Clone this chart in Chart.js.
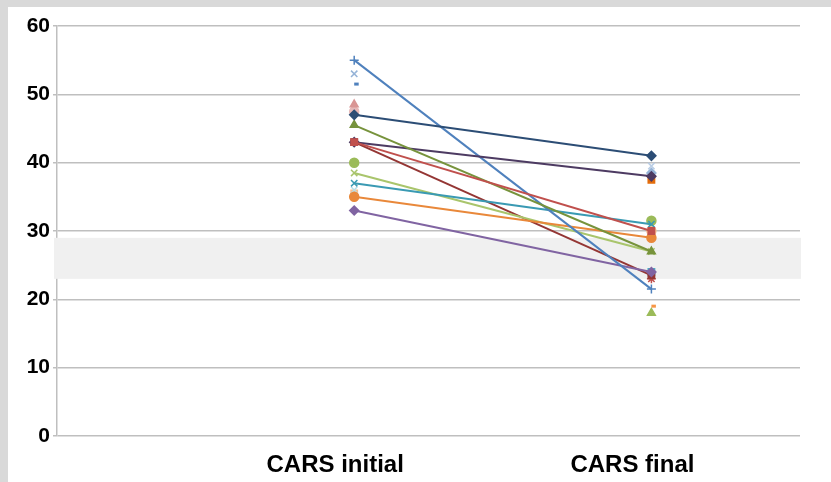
<!DOCTYPE html>
<html>
<head>
<meta charset="utf-8">
<script src="https://cdn.jsdelivr.net/npm/chart.js@4.4.1/dist/chart.umd.min.js"></script>
<style>
  html, body { margin: 0; padding: 0; background: #d9d9d9; }
  body { width: 831px; height: 482px; position: relative; overflow: hidden; }
  #wrap { position: absolute; left: 8px; top: 7px; width: 823px; height: 475px; background: #fff; }
</style>
</head>
<body>
<div id="wrap"><canvas id="carsChart"></canvas></div>
<script>
// two measurement points per patient
const categories = ['CARS initial', 'CARS final'];
const yTicks = [0, 10, 20, 30, 40, 50, 60];

// per-series values (null = no point at that time)
const initialScores = [47, 43, 45.5, 43, 55, 37, 35, 33, 38.5, 43,
    53, 51.5, 48.5, 47.5, 40, 36, 35.5,
    null, null, null, null, null, null, null, null, null];
const finalScores = [41, 30, 27, 38, 21.5, 31, 29, 24, 27, 23.5,
    null, null, null, null, null, null, null,
    39.5, 38.5, 37.5, 31.5, 30, 24, 23, 19, 18];

const lineColors = ['#2c4d75', '#c0504d', '#77933c', '#4d3b62', '#4f81bd', '#3a9ab3', '#e9883a', '#8064a2', '#a9c56c', '#943634',
    '#95b3d7', '#4f81bd', '#d99694', '#e6b9b8', '#9bbb59', '#b7dee8', '#fac090',
    '#b9cde5', '#95b3d7', '#e46c0a', '#9bbb59', '#fac090', '#4bacc6', '#c0504d', '#f79646', '#9bbb59'];
const markerStyles = ['rectRot', 'rect', 'triangle', 'rectRot', 'cross', 'crossRot', 'circle', 'rectRot', 'crossRot', 'rect',
    'crossRot', 'dash', 'triangle', 'circle', 'circle', 'crossRot', 'rect',
    'crossRot', 'rectRot', 'rect', 'circle', 'circle', 'rect', 'star', 'dash', 'triangle'];

// shaded reference range
const bandLow = 23;
const bandHigh = 29;

const datasets = initialScores.map((v, i) => ({
    data: [
        { x: 1, y: v },
        { x: 2, y: finalScores[i] }
    ],
    borderColor: lineColors[i],
    backgroundColor: lineColors[i],
    pointStyle: markerStyles[i],
    pointRadius: 4.5,
    pointBorderWidth: markerStyles[i] === 'dash' ? 3 : 1.5,
    borderWidth: 2,
    spanGaps: false
}));

const bandPlugin = {
    id: 'band',
    beforeDatasetsDraw(chart) {
        const { ctx, chartArea, scales } = chart;
        const top = scales.y.getPixelForValue(bandHigh);
        const bottom = scales.y.getPixelForValue(bandLow);
        ctx.save();
        ctx.fillStyle = '#f0f0f0';
        ctx.fillRect(chartArea.left - 3, top, chartArea.right - chartArea.left + 4, bottom - top);
        ctx.restore();
    }
};

new Chart(document.getElementById('carsChart'), {
    type: 'line',
    data: { datasets },
    plugins: [bandPlugin],
    options: {
        responsive: true,
        maintainAspectRatio: false,
        animation: false,
        layout: { padding: { left: 0, top: 19, right: 31, bottom: 0 } },
        plugins: {
            legend: { display: false },
            tooltip: { enabled: false }
        },
        scales: {
            x: {
                type: 'linear',
                min: 0,
                max: 2.5,
                afterBuildTicks: (scale) => {
                    scale.ticks = categories.map((c, i) => ({ value: i + 1 }));
                },
                afterFit: (scale) => { scale.height = 46; },
                grid: { display: false },
                border: { display: false },
                ticks: {
                    callback: (v) => categories[v - 1],
                    color: '#000',
                    padding: 7,
                    labelOffset: -19,
                    maxRotation: 0,
                    font: { family: 'Liberation Sans, Arial, sans-serif', size: 24, weight: 'bold' }
                }
            },
            y: {
                min: 0,
                max: 60,
                afterBuildTicks: (scale) => {
                    scale.ticks = yTicks.map(v => ({ value: v }));
                },
                afterFit: (scale) => { scale.width = 49; },
                grid: { color: '#bfbfbf', lineWidth: 1.5, tickLength: 4 },
                border: { color: '#bfbfbf', width: 1.5 },
                ticks: {
                    color: '#000',
                    padding: 3,
                    font: { family: 'Liberation Sans, Arial, sans-serif', size: 21, weight: 'bold' }
                }
            }
        }
    }
});
</script>
</body>
</html>
